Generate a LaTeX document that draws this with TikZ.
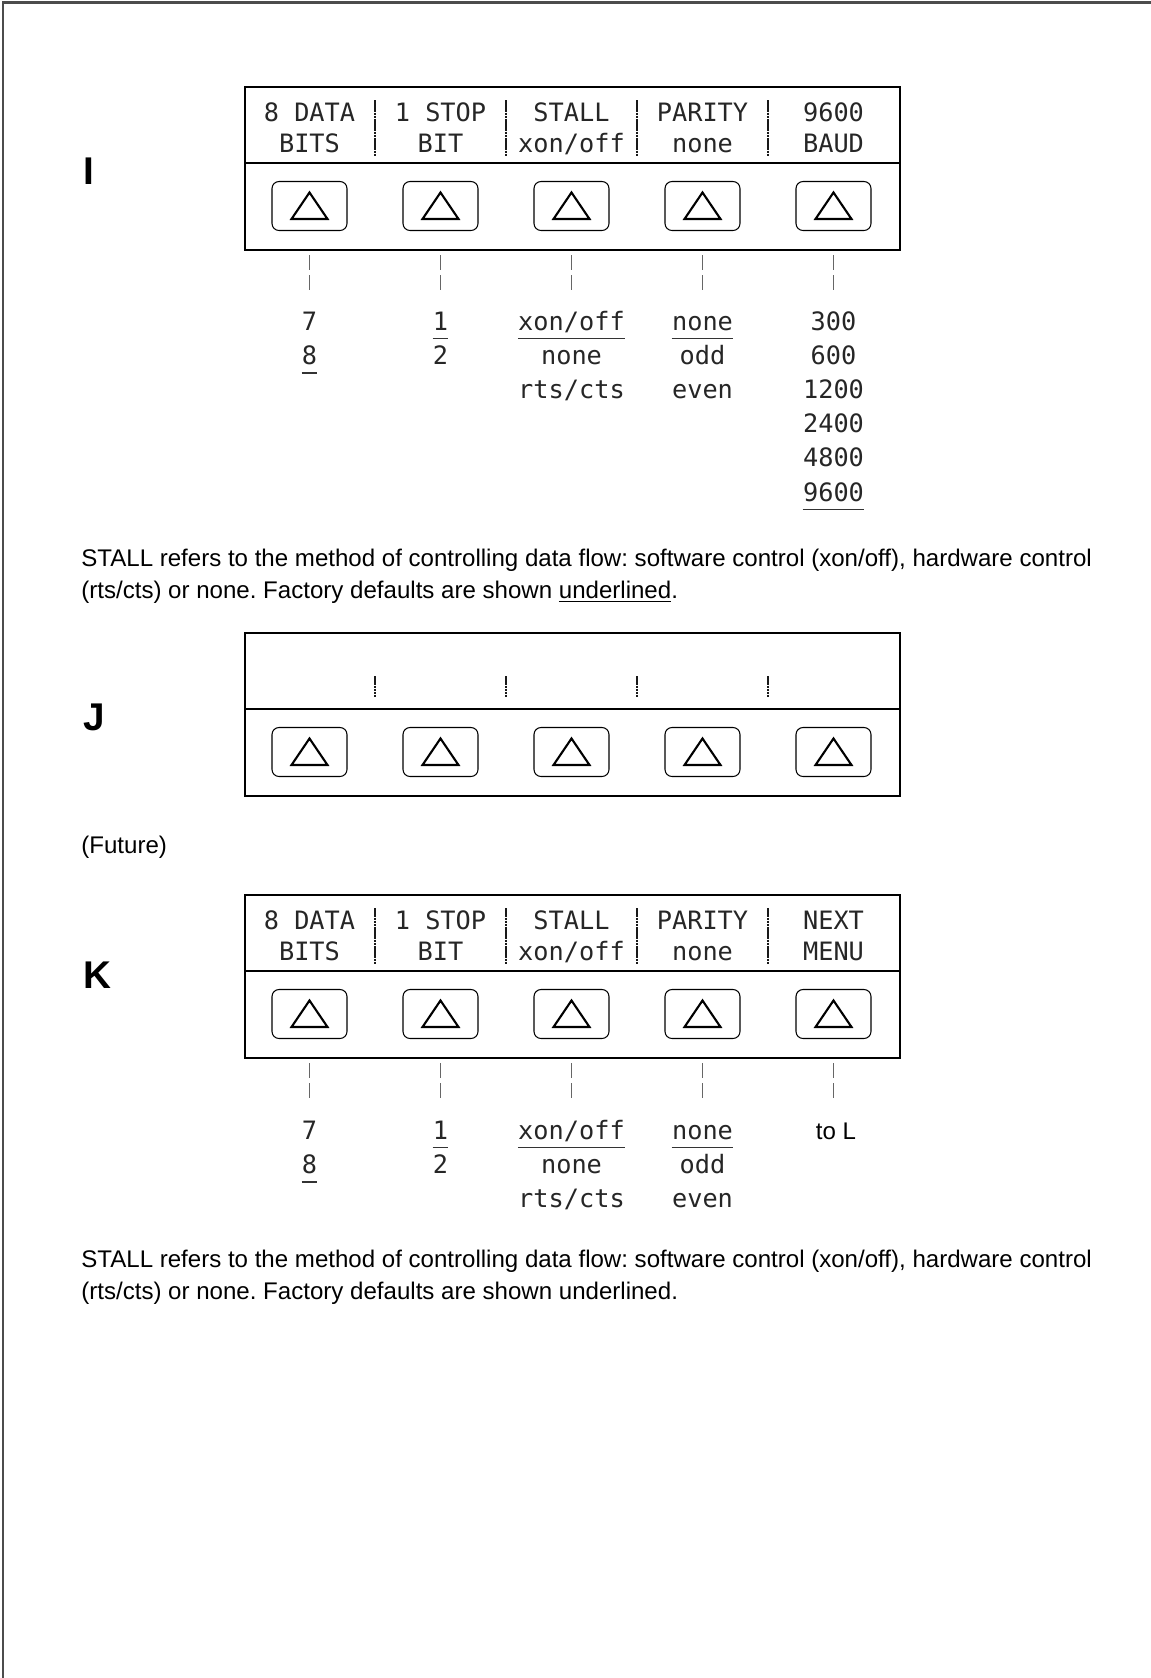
\documentclass[tikz,border=0pt]{standalone}
\usepackage{fontspec}
\setmainfont{Liberation Sans}
\newfontfamily\lcdfont{DejaVu Sans Mono}
\usetikzlibrary{positioning}
\frenchspacing

\tikzset{
	panel/.style={draw, line width=1.3pt},
	key/.style={draw, line width=0.6pt, rounded corners=4pt, minimum width=1.5cm, minimum height=0.98cm},
	tri/.style={line width=1.2pt, line join=miter},
	lcd/.style={font=\lcdfont\fontsize{14.4}{17}\selectfont, text=black!85, inner sep=0pt, anchor=base},
	note/.style={font=\fontsize{13.7}{16}\selectfont, inner sep=0pt, anchor=base west},
	tag/.style={font=\bfseries\fontsize{22}{26}\selectfont, inner sep=0pt, anchor=west},
	sepline/.style={line width=1.6pt, black!90, dash pattern=on 1.5pt off 0.3pt},
	tick/.style={black!60, line width=0.5pt, dash pattern=on 8.5pt off 3pt},
	uline/.style={black!80, line width=0.7pt},
}

\begin{document}
\begin{tikzpicture}[x=0.02cm, y=-0.02cm]
	\useasboundingbox (0,0) rectangle (1151,1678);
	\draw[black!70, line width=1.7pt] (3,1678) -- (3,2) -- (1151,2);

	% the three key panels
	\foreach \p/\t in {I/86, J/632, K/894} {
		\node[panel, anchor=north west, minimum width=13.1cm, minimum height=3.26cm] (p\p) at (244,\t) {};
		\draw[panel] (244,\t+77) -- (899,\t+77);
		\foreach \n/\x in {1/309.5, 2/440.5, 3/571.5, 4/702.5, 5/833.5} {
			\node[key] (k\p\n) at (\x,\t+120) {};
			\draw[tri] (\x-18,\t+133) -- (\x+18,\t+133) -- (\x,\t+106.5) -- cycle;
		}
	}
	\foreach \x in {375, 506, 637, 768} {
		\draw[sepline] (\x,100) -- (\x,156);
		\draw[sepline] (\x,676) -- (\x,697);
		\draw[sepline] (\x,908) -- (\x,964);
	}
	\foreach \p in {I, K}
		\foreach \n in {1,...,5}
			\draw[tick] (k\p\n |- p\p.south) ++(0,4) -- ++(0,36);

	\node[tag] (tagI) at (83,171) {I};
	\node[tag] (tagJ) at (83,717) {J};
	\node[tag] (tagK) at (83,975) {K};

	% panel I
	\foreach \n/\x/\a/\b in {1/309.5/8 DATA/BITS, 2/440.5/1 STOP/BIT, 3/571.5/STALL/{xon/off}, 4/702.5/PARITY/none, 5/833.5/9600/BAUD} {
		\node[lcd] (hIa\n) at (\x,121) {\a};
		\node[lcd] (hIb\n) at (\x,152) {\b};
	}
	\foreach \c/\x/\r/\t in {1/309.5/1/7, 1/309.5/2/8, 2/440.5/1/1, 2/440.5/2/2,
			3/571.5/1/{xon/off}, 3/571.5/2/none, 3/571.5/3/{rts/cts},
			4/702.5/1/none, 4/702.5/2/odd, 4/702.5/3/even,
			5/833.5/1/300, 5/833.5/2/600, 5/833.5/3/1200, 5/833.5/4/2400, 5/833.5/5/4800, 5/833.5/6/9600}
		\node[lcd] (oI\c\r) at (\x,{330+34.2*(\r-1)}) {\t};
	\foreach \o in {oI12, oI21, oI31, oI41, oI56}
		\draw[uline] ([yshift=-5pt]\o.base west) -- ([yshift=-5pt]\o.base east);
	\node[note] (capIa) at (81,566.5) {STALL refers to the method of controlling data flow: software control (xon/off), hardware control};
	\node[note] (capIb) at (81,598.5) {(rts/cts) or none. Factory defaults are shown \underline{underlined}.};

	% panel J
	\node[note] (future) at (81,853.5) {(Future)};

	% panel K
	\foreach \n/\x/\a/\b in {1/309.5/8 DATA/BITS, 2/440.5/1 STOP/BIT, 3/571.5/STALL/{xon/off}, 4/702.5/PARITY/none, 5/833.5/NEXT/MENU} {
		\node[lcd] (hKa\n) at (\x,929) {\a};
		\node[lcd] (hKb\n) at (\x,960) {\b};
	}
	\foreach \c/\x/\r/\t in {1/309.5/1/7, 1/309.5/2/8, 2/440.5/1/1, 2/440.5/2/2,
			3/571.5/1/{xon/off}, 3/571.5/2/none, 3/571.5/3/{rts/cts},
			4/702.5/1/none, 4/702.5/2/odd, 4/702.5/3/even}
		\node[lcd] (oK\c\r) at (\x,{1139+34.2*(\r-1)}) {\t};
	\node[note, anchor=base] (oK51) at (836,1139) {to L};
	\foreach \o in {oK12, oK21, oK31, oK41}
		\draw[uline] ([yshift=-5pt]\o.base west) -- ([yshift=-5pt]\o.base east);
	\node[note] (capKa) at (81,1267.5) {STALL refers to the method of controlling data flow: software control (xon/off), hardware control};
	\node[note] (capKb) at (81,1299.5) {(rts/cts) or none. Factory defaults are shown underlined.};
\end{tikzpicture}
\end{document}
